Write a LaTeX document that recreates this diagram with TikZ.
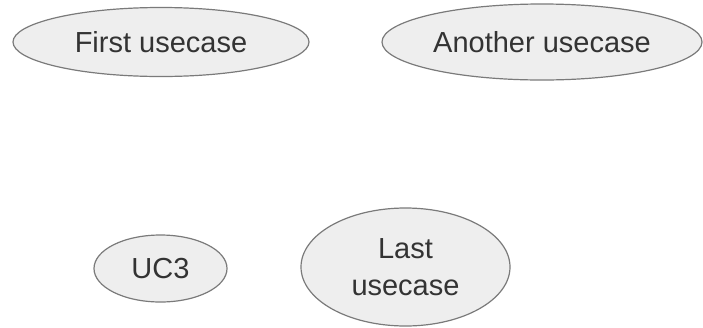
\documentclass[tikz,border=0pt]{standalone}
\usepackage{fontspec}
\setmainfont{Liberation Sans}
\usetikzlibrary{shapes.geometric}
\definecolor{ucfill}{HTML}{EEEEEE}
\definecolor{ucdraw}{HTML}{7A7A7A}
\definecolor{uctext}{HTML}{333333}
\begin{document}
\begin{tikzpicture}[x=1pt,y=-1pt,
  usecase/.style={ellipse, draw=ucdraw, fill=ucfill, line width=1.2pt, inner sep=0pt,
    text=uctext, font=\fontsize{29}{37}\selectfont, align=center}]
\useasboundingbox (0,0) rectangle (703,327);
\node[usecase, minimum width=296pt, minimum height=69pt] (first) at (161,42) {First usecase};
\node[usecase, minimum width=320pt, minimum height=76pt] (another) at (542,42) {Another usecase};
\node[usecase, minimum width=133pt, minimum height=67pt] (uc3) at (160.5,268.5) {UC3};
\node[usecase, minimum width=209pt, minimum height=118pt] (last) at (405.5,267) {Last\\usecase};
\end{tikzpicture}
\end{document}
